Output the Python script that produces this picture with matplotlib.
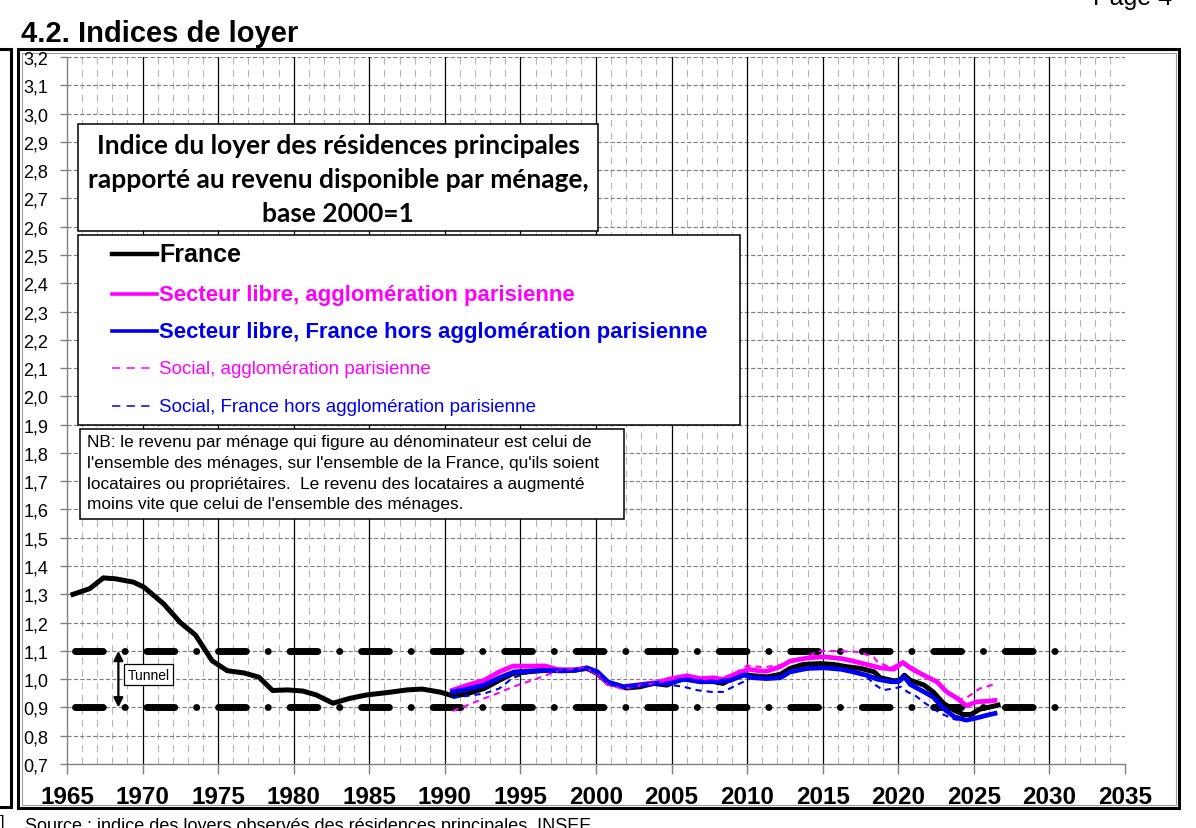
import numpy as np
import matplotlib
matplotlib.use('Agg')
import matplotlib.pyplot as plt
from matplotlib.patches import Rectangle
from matplotlib.lines import Line2D

plt.rcParams['font.family'] = ['Liberation Sans', 'DejaVu Sans']
plt.rcParams['lines.scale_dashes'] = False

# ---------------- data ----------------
france_years = [1965.4, 1966.5, 1967.4, 1968.2, 1969.4, 1970.1, 1971.4, 1972.5, 1973.5, 1974.6,
                1975.6, 1976.7, 1977.7, 1978.6, 1979.6, 1980.6, 1981.5, 1982.6, 1983.7, 1984.8,
                1986.4, 1987.5, 1988.5, 1989.7, 1990.6, 1991.5, 1992.6, 1993.6, 1994.5, 1995.5,
                1996.6, 1997.7, 1998.6, 1999.4, 2000.1, 2000.8, 2001.4, 2002.0, 2002.9, 2003.8,
                2004.7, 2005.35, 2006.0, 2006.9, 2007.6, 2008.4, 2009.1, 2009.8, 2010.4, 2011.3,
                2012.2, 2012.85, 2013.7, 2014.8, 2015.7, 2016.6, 2017.5, 2018.4, 2018.8, 2019.7,
                2020.1, 2020.4, 2020.8, 2021.7, 2022.3, 2023.0, 2023.7, 2024.3, 2024.8, 2025.4,
                2026.1, 2026.6]
france_values = [1.300, 1.320, 1.358, 1.355, 1.343, 1.325, 1.266, 1.200, 1.156, 1.065,
                 1.030, 1.022, 1.007, 0.960, 0.962, 0.958, 0.944, 0.915, 0.932, 0.944,
                 0.954, 0.962, 0.965, 0.954, 0.940, 0.949, 0.967, 0.996, 1.020, 1.026,
                 1.031, 1.031, 1.032, 1.038, 1.020, 0.985, 0.979, 0.969, 0.973, 0.985,
                 0.979, 0.996, 1.002, 0.991, 0.993, 0.985, 1.005, 1.016, 1.012, 1.008,
                 1.017, 1.038, 1.052, 1.055, 1.052, 1.044, 1.038, 1.026, 1.005, 0.994,
                 0.996, 1.014, 0.996, 0.979, 0.955, 0.914, 0.890, 0.875, 0.875, 0.894,
                 0.902, 0.908]

libre_paris_years = [1990.5, 1991.5, 1992.6, 1993.6, 1994.5, 1995.5, 1996.6, 1997.5, 1998.6, 1999.4,
                     2000.1, 2000.8, 2001.8, 2002.9, 2004.0, 2005.0, 2006.0, 2006.9, 2007.8, 2008.4,
                     2009.3, 2010.1, 2010.7, 2011.3, 2012.2, 2012.85, 2014.0, 2015.1, 2016.2, 2017.0,
                     2017.9, 2018.8, 2019.7, 2020.3, 2020.9, 2021.9, 2022.55, 2023.2, 2023.9, 2024.5,
                     2025.2, 2025.9, 2026.4]
libre_paris_values = [0.961, 0.979, 0.996, 1.026, 1.046, 1.046, 1.047, 1.034, 1.032, 1.040,
                      1.022, 0.985, 0.973, 0.981, 0.988, 1.002, 1.012, 1.002, 1.005, 0.999,
                      1.020, 1.035, 1.030, 1.028, 1.044, 1.064, 1.075, 1.079, 1.073, 1.064,
                      1.052, 1.040, 1.035, 1.059, 1.036, 1.008, 0.991, 0.955, 0.932, 0.906,
                      0.920, 0.922, 0.925]

libre_province_years = [1990.5, 1991.5, 1992.6, 1993.6, 1994.6, 1995.7, 1996.8, 1997.7, 1998.6, 1999.4,
                        2000.1, 2000.8, 2001.8, 2002.9, 2004.0, 2004.9, 2005.8, 2006.9, 2008.0, 2008.9,
                        2009.8, 2010.4, 2011.3, 2012.2, 2012.85, 2014.0, 2015.1, 2016.2, 2017.0, 2017.9,
                        2018.6, 2019.5, 2020.0, 2020.4, 2020.8, 2021.7, 2022.3, 2023.0, 2023.7, 2024.5,
                        2025.2, 2025.9, 2026.4]
libre_province_values = [0.955, 0.965, 0.979, 1.005, 1.026, 1.029, 1.031, 1.029, 1.031, 1.040,
                         1.026, 0.990, 0.973, 0.979, 0.985, 0.985, 1.000, 0.991, 0.991, 0.996,
                         1.015, 1.005, 1.002, 1.005, 1.026, 1.038, 1.040, 1.035, 1.026, 1.014,
                         1.000, 0.991, 0.991, 1.008, 0.981, 0.955, 0.937, 0.896, 0.867, 0.855,
                         0.863, 0.873, 0.879]

social_paris_years = [1990.5, 1991.5, 1992.6, 1993.6, 1994.5, 1995.5, 1996.4, 1997.3, 1998.2, 1999.2,
                      2000.1, 2000.8, 2001.8, 2002.9, 2004.0, 2005.0, 2006.0, 2007.0, 2008.0, 2009.0,
                      2010.0, 2011.1, 2012.2, 2013.0, 2014.0, 2014.6, 2015.05, 2016.2, 2017.4, 2018.4,
                      2018.6, 2019.5, 2020.3, 2021.0, 2021.9, 2022.6, 2023.3, 2024.0, 2024.5, 2025.4,
                      2026.3]
social_paris_values = [0.887, 0.908, 0.932, 0.952, 0.973, 0.991, 1.008, 1.026, 1.034, 1.040,
                       1.022, 0.980, 0.965, 0.978, 0.986, 1.000, 1.010, 1.000, 1.000, 1.015,
                       1.048, 1.042, 1.050, 1.065, 1.078, 1.098, 1.100, 1.099, 1.096, 1.077,
                       1.062, 1.040, 1.062, 1.040, 1.010, 0.990, 0.955, 0.928, 0.934, 0.967,
                       0.981]

social_province_years = [1990.5, 1991.5, 1992.6, 1993.6, 1994.5, 1995.5, 1996.6, 1997.7, 1998.6, 1999.4,
                         2000.1, 2000.8, 2001.8, 2002.9, 2004.0, 2005.0, 2005.8, 2006.7, 2007.6, 2008.4,
                         2009.3, 2010.2, 2011.3, 2012.2, 2012.85, 2014.0, 2015.1, 2016.2, 2017.0, 2017.9,
                         2018.5, 2019.0, 2019.7, 2020.2, 2020.6, 2021.1, 2021.8, 2022.8, 2023.7, 2024.5]
social_province_values = [0.934, 0.941, 0.949, 0.967, 1.005, 1.022, 1.028, 1.027, 1.030, 1.038,
                          1.022, 0.985, 0.970, 0.977, 0.982, 0.979, 0.973, 0.961, 0.955, 0.955,
                          0.979, 1.002, 1.000, 1.003, 1.022, 1.036, 1.038, 1.033, 1.024, 1.008,
                          0.979, 0.961, 0.967, 0.973, 0.955, 0.943, 0.914, 0.879, 0.858, 0.853]

series_labels = ['France',
                 'Secteur libre, agglomération parisienne',
                 'Secteur libre, France hors agglomération parisienne',
                 'Social, agglomération parisienne',
                 'Social, France hors agglomération parisienne']

tunnel_levels = [1.1, 0.9]
tunnel_span = [1965.55, 2030.4]
tunnel_arrow_year = 1968.4

y_ticks = [round(0.7 + 0.1 * i, 1) for i in range(26)]
x_ticks = list(range(1965, 2036, 5))

title_lines = ['Indice du loyer des résidences principales',
               'rapporté au revenu disponible par ménage,',
               'base 2000=1']
nb_lines = ["NB: le revenu par ménage qui figure au dénominateur est celui de",
            "l'ensemble des ménages, sur l'ensemble de la France, qu'ils soient",
            "locataires ou propriétaires.  Le revenu des locataires a augmenté",
            "moins vite que celui de l'ensemble des ménages."]

# ---------------- figure ----------------
W, H = 1196, 829
fig = plt.figure(figsize=(W / 100, H / 100), dpi=100)
fig.patch.set_facecolor('white')

bg = fig.add_axes([0, 0, 1, 1], zorder=0)
bg.set_xlim(0, W); bg.set_ylim(H, 0); bg.axis('off')

ax = fig.add_axes([67 / W, 1 - 765 / H, (1125 - 67) / W, (765 - 58) / H], zorder=1)
ax.patch.set_alpha(0)

ov = fig.add_axes([0, 0, 1, 1], zorder=2)
ov.set_xlim(0, W); ov.set_ylim(H, 0); ov.axis('off')

# page furniture
bg.add_patch(Rectangle((18, 50), 1161, 759, fill=False, ec='black', lw=2.2))
bg.add_patch(Rectangle((21.5, 53.5), 1154, 752, fill=False, ec='#9a9a9a', lw=0.8))
bg.plot([0, 11, 11, 0], [50, 50, 808, 808], color='black', lw=2.2, solid_joinstyle='miter')
bg.text(21, 42, '4.2. Indices de loyer', fontsize=21, fontweight='bold', va='baseline', ha='left')
bg.text(1172, 5, 'Page 4', fontsize=18, va='baseline', ha='right')
bg.text(25, 831, 'Source : indice des loyers observés des résidences principales, INSEE',
        fontsize=13, va='baseline', ha='left')
bg.text(0, 827, ']', fontsize=12, va='baseline', ha='left')

# axes setup
ax.set_xlim(1965, 2035)
ax.set_ylim(0.7, 3.2)
for yr in range(1966, 2036):
    if yr % 5 == 0 and yr < 2035:
        ax.axvline(yr, color='black', lw=0.9, zorder=0.5)
    else:
        ax.axvline(yr, color='#b4b4b4', lw=0.75, ls=(0, (5, 4)), zorder=0.4)
for v in y_ticks[1:]:
    ax.axhline(v, color='#7f7f7f', lw=0.85, ls=(0, (3, 1.6)), zorder=0.45)

ax.set_yticks(y_ticks)
ax.set_yticklabels([f'{v:.1f}'.replace('.', ',') for v in y_ticks])
ax.set_xticks(x_ticks)
ax.set_xticklabels([str(x) for x in x_ticks], fontweight='bold')
ax.tick_params(axis='y', length=5, width=1, color='#808080', pad=8.5, labelsize=13)
ax.tick_params(axis='x', length=7, width=1, color='#808080', pad=8, labelsize=17.5)
for s in ['top', 'right']:
    ax.spines[s].set_visible(False)
for s in ['left', 'bottom']:
    ax.spines[s].set_color('#808080')
    ax.spines[s].set_linewidth(1.0)

# tunnel
for lvl in tunnel_levels:
    ax.plot(tunnel_span, [lvl, lvl], color='black', lw=5, dash_capstyle='round',
            ls=(0, (20, 15.7, 0.1, 15.7)), zorder=2)
ax.annotate('', xy=(tunnel_arrow_year, tunnel_levels[1]), xytext=(tunnel_arrow_year, tunnel_levels[0]),
            arrowprops=dict(arrowstyle='<|-|>', color='black', lw=1.6, mutation_scale=14,
                            shrinkA=0, shrinkB=0), zorder=3)
ax.text(tunnel_arrow_year + 0.6, 1.015, 'Tunnel', fontsize=10, va='center', ha='left', zorder=4,
        bbox=dict(boxstyle='square,pad=0.25', fc='white', ec='black', lw=0.9))

# data series
MAG = '#FF00FF'
BLU = '#0000F0'
dash_style = (0, (4.5, 3.5))
ax.plot(france_years, france_values, color='black', lw=3.6, zorder=5, solid_joinstyle='round')
ax.plot(libre_paris_years, libre_paris_values, color=MAG, lw=3.4, zorder=6, solid_joinstyle='round')
ax.plot(libre_province_years, libre_province_values, color=BLU, lw=3.4, zorder=7, solid_joinstyle='round')
ax.plot(social_paris_years, social_paris_values, color=MAG, lw=1.5, ls=dash_style, zorder=8)
ax.plot(social_province_years, social_province_values, color=BLU, lw=1.5, ls=dash_style, zorder=9)

# title box
ov.add_patch(Rectangle((78, 125), 520, 107, fc='white', ec='black', lw=1.1))
for i, line in enumerate(title_lines):
    ov.text(338, 146 + i * 34, line, fontsize=19, fontweight='bold', family=['Lato', 'DejaVu Sans'],
            ha='center', va='center')

# legend box
ov.add_patch(Rectangle((78, 236), 662, 190, fc='white', ec='black', lw=1.1))
leg_specs = [
    (series_labels[0], 'black', '-', 3.2, 18, 'bold', 255),
    (series_labels[1], MAG, '-', 2.6, 15.9, 'bold', 295),
    (series_labels[2], BLU, '-', 2.6, 15.9, 'bold', 332),
    (series_labels[3], MAG, (0, (6, 4.5)), 1.1, 13.5, 'normal', 369),
    (series_labels[4], BLU, (0, (6, 4.5)), 1.1, 13.5, 'normal', 407),
]
for label, col, ls, lw, fs, fw, yy in leg_specs:
    xend = 157 if ls == '-' else 150
    ov.add_line(Line2D([112, xend], [yy, yy], color=col, lw=lw, ls=ls))
    ov.text(159, yy, label, color=col, fontsize=fs, fontweight=fw, ha='left', va='center')

# NB box
ov.add_patch(Rectangle((80, 430), 544, 90, fc='white', ec='black', lw=1.1))
for i, line in enumerate(nb_lines):
    ov.text(87, 443 + i * 20.5, line, fontsize=12.4, ha='left', va='center')

fig.savefig('out.png', dpi=100, facecolor='white')
